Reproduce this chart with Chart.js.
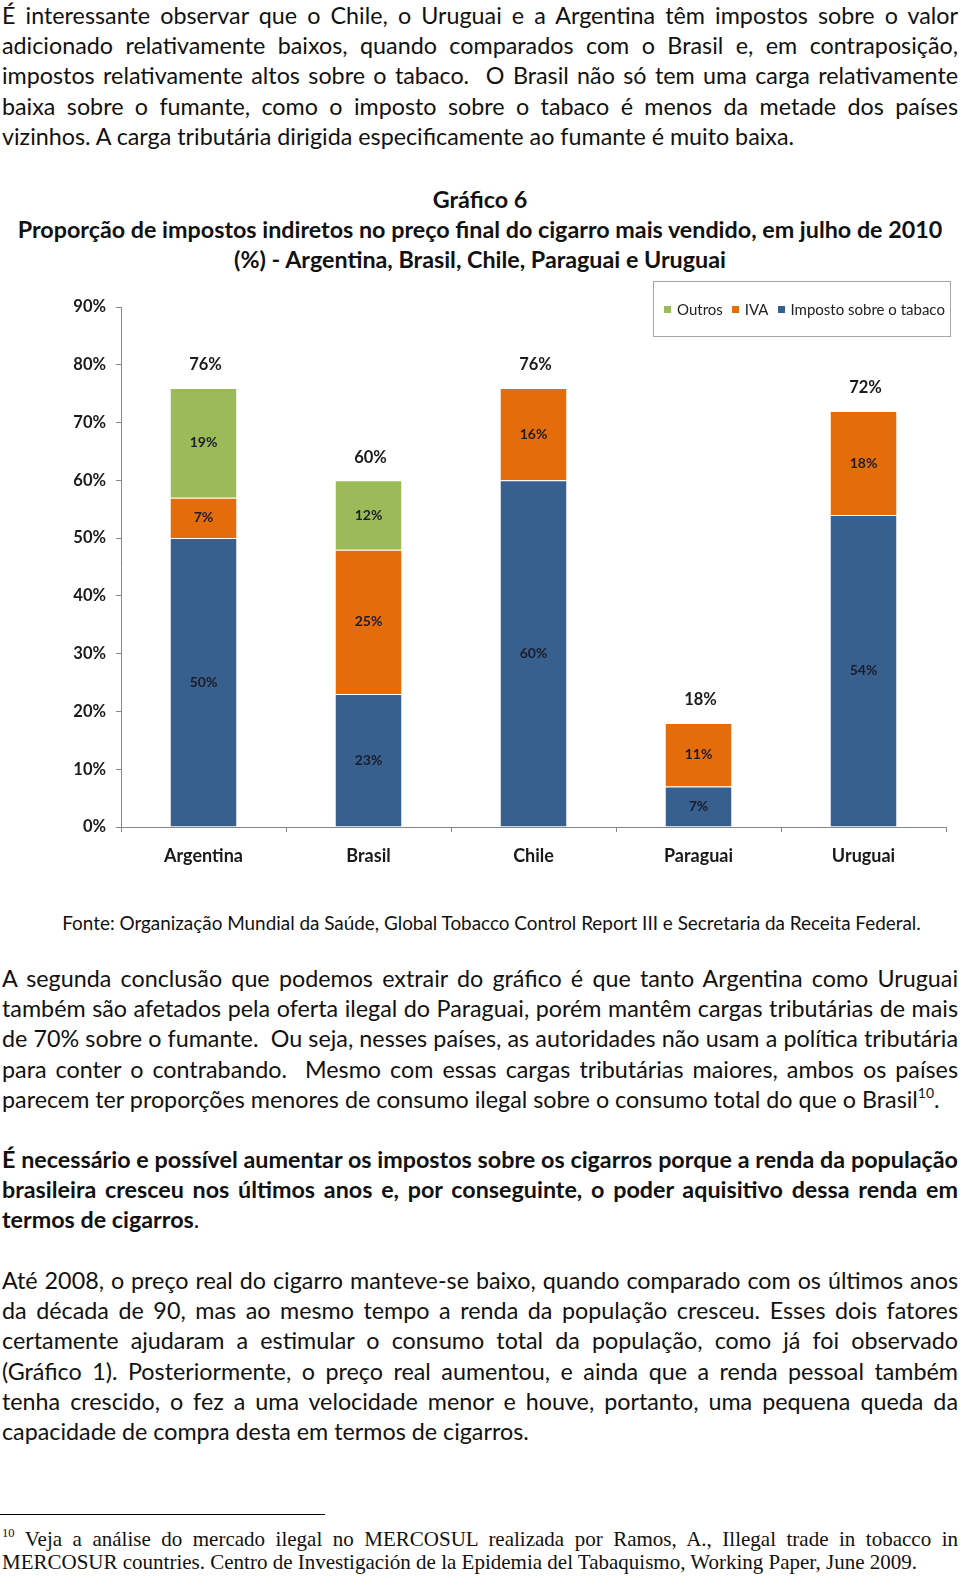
<!DOCTYPE html>
<html lang="pt-BR">
<head>
<meta charset="utf-8">
<title>Gráfico 6</title>
<script src="https://cdn.jsdelivr.net/npm/chart.js@4.4.1/dist/chart.umd.min.js"></script>
<style>
  html, body { margin: 0; padding: 0; background: #fff; }
  body { width: 960px; height: 1578px; position: relative; overflow: hidden;
         font-family: Lato, "Open Sans", sans-serif; color: #111; }
  .para { position: absolute; left: 2px; width: 956px; font-size: 23.3px; }
  .para div { height: 30.2px; line-height: 30.2px; white-space: nowrap;
              text-align: justify; text-align-last: justify; }
  .para div.last { text-align: left; text-align-last: left; }
  .bold { font-weight: bold; }
  sup { font-size: 0.6em; line-height: 0; vertical-align: 0.7em; }
  #title { position: absolute; left: 0; top: 184px; width: 960px; text-align: center;
           font-weight: bold; font-size: 23.3px; line-height: 30.2px; white-space: nowrap; }
  #wrap { position: absolute; left: 0; top: 280px; width: 960px; height: 600px; }
  #legend { position: absolute; left: 653px; top: 281px; width: 298px; height: 56px;
            border: 1px solid #a6a6a6; box-sizing: border-box; display: flex; align-items: center;
            padding-left: 10px; font-size: 15px; color: #222; white-space: nowrap; }
  #legend span.item { display: flex; align-items: center; margin-right: 9px; }
  #legend i { display: inline-block; width: 7px; height: 7px; margin-right: 6px; }
  #fonte { position: absolute; left: 62px; width: 859px; top: 911px; line-height: 24px;
           font-size: 18.9px; text-align: center; white-space: nowrap; }
  #rule { position: absolute; left: 0; top: 1514px; width: 325px; height: 0; border-top: 1px solid #000; }
  #nota { position: absolute; left: 2px; width: 956px; top: 1528px; font-family: "Liberation Serif", serif; font-size: 21px; }
  #nota div { height: 23px; line-height: 23px; white-space: nowrap; text-align: justify; text-align-last: justify; }
  #nota div.last { text-align: left; text-align-last: left; }
</style>
</head>
<body>

<div class="para" style="top:0px">
  <div>É interessante observar que o Chile, o Uruguai e a Argentina têm impostos sobre o valor</div>
  <div>adicionado relativamente baixos, quando comparados com o Brasil e, em contraposição,</div>
  <div>impostos relativamente altos sobre o tabaco.&nbsp; O Brasil não só tem uma carga relativamente</div>
  <div>baixa sobre o fumante, como o imposto sobre o tabaco é menos da metade dos países</div>
  <div class="last">vizinhos. A carga tributária dirigida especificamente ao fumante é muito baixa.</div>
</div>

<div id="title">
  Gráfico 6<br>
  Proporção de impostos indiretos no preço final do cigarro mais vendido, em julho de 2010<br>
  (%) - Argentina, Brasil, Chile, Paraguai e Uruguai
</div>

<div id="wrap"><canvas id="chart" width="960" height="600"></canvas></div>
<div id="legend"></div>

<div id="fonte">Fonte: Organização Mundial da Saúde, Global Tobacco Control Report III e Secretaria da Receita Federal.</div>

<div class="para" style="top:963px">
  <div>A segunda conclusão que podemos extrair do gráfico é que tanto Argentina como Uruguai</div>
  <div>também são afetados pela oferta ilegal do Paraguai, porém mantêm cargas tributárias de mais</div>
  <div>de 70% sobre o fumante.&nbsp; Ou seja, nesses países, as autoridades não usam a política tributária</div>
  <div>para conter o contrabando.&nbsp; Mesmo com essas cargas tributárias maiores, ambos os países</div>
  <div class="last">parecem ter proporções menores de consumo ilegal sobre o consumo total do que o Brasil<sup>10</sup>.</div>
</div>

<div class="para" style="top:1144px">
  <div class="bold">É necessário e possível aumentar os impostos sobre os cigarros porque a renda da população</div>
  <div class="bold">brasileira cresceu nos últimos anos e, por conseguinte, o poder aquisitivo dessa renda em</div>
  <div class="last"><span class="bold">termos de cigarros</span>.</div>
</div>

<div class="para" style="top:1265px">
  <div>Até 2008, o preço real do cigarro manteve-se baixo, quando comparado com os últimos anos</div>
  <div>da década de 90, mas ao mesmo tempo a renda da população cresceu. Esses dois fatores</div>
  <div>certamente ajudaram a estimular o consumo total da população, como já foi observado</div>
  <div>(Gráfico 1). Posteriormente, o preço real aumentou, e ainda que a renda pessoal também</div>
  <div>tenha crescido, o fez a uma velocidade menor e houve, portanto, uma pequena queda da</div>
  <div class="last">capacidade de compra desta em termos de cigarros.</div>
</div>

<div id="rule"></div>
<div id="nota">
  <div><sup>10</sup> Veja a análise do mercado ilegal no MERCOSUL realizada por Ramos, A., Illegal trade in tobacco in</div>
  <div class="last">MERCOSUR countries. Centro de Investigación de la Epidemia del Tabaquismo, Working Paper, June 2009.</div>
</div>

<script>
// dados do Gráfico 6 (valores em %)
const countries = ["Argentina", "Brasil", "Chile", "Paraguai", "Uruguai"];
const impostoTabaco = [50, 23, 60, 7, 54];
const iva = [7, 25, 16, 11, 18];
const outros = [19, 12, null, null, null];
const yTicks = [0, 10, 20, 30, 40, 50, 60, 70, 80, 90];

const COLORS = {
  tabaco: "#37608f",
  iva: "#e46c0a",
  outros: "#9bbb59",
  axis: "#868686",
  text: "#1a1a1a",
  label: "#1c1c2a",
};
const FONT = "Lato, 'Open Sans', sans-serif";

const series = [
  { label: "Imposto sobre o tabaco", data: impostoTabaco, color: COLORS.tabaco },
  { label: "IVA", data: iva, color: COLORS.iva },
  { label: "Outros", data: outros, color: COLORS.outros },
];

// legenda em HTML (ordem inversa, como no original)
const legendEl = document.getElementById("legend");
series.slice().reverse().forEach((s) => {
  const item = document.createElement("span");
  item.className = "item";
  item.innerHTML = `<i style="background:${s.color}"></i>${s.label}`;
  legendEl.appendChild(item);
});

// rótulos dentro das barras e total acima
const barLabels = {
  id: "barLabels",
  afterDatasetsDraw(chart) {
    const ctx = chart.ctx;
    ctx.save();
    ctx.textAlign = "center";
    ctx.textBaseline = "middle";
    ctx.fillStyle = COLORS.label;
    ctx.font = `bold 14px ${FONT}`;
    chart.data.datasets.forEach((ds, di) => {
      const meta = chart.getDatasetMeta(di);
      meta.data.forEach((bar, i) => {
        const v = ds.data[i];
        if (v == null) return;
        ctx.fillText(v + "%", bar.x, (bar.y + bar.base) / 2);
      });
    });
    ctx.font = `bold 16.5px ${FONT}`;
    ctx.fillStyle = COLORS.text;
    countries.forEach((_, i) => {
      let total = 0;
      let top = Infinity;
      let x = 0;
      chart.data.datasets.forEach((ds, di) => {
        const v = ds.data[i];
        if (v == null) return;
        total += v;
        const bar = chart.getDatasetMeta(di).data[i];
        top = Math.min(top, bar.y);
        x = bar.x;
      });
      ctx.fillText(total + "%", x + 2, top - 23);
    });
    ctx.restore();
  },
};

new Chart(document.getElementById("chart"), {
  type: "bar",
  data: {
    labels: countries,
    datasets: series.map((s) => ({
      label: s.label,
      data: s.data,
      backgroundColor: s.color,
      borderColor: "rgba(255,255,255,0.85)",
      borderWidth: { top: 1 },
      borderSkipped: "bottom",
      barPercentage: 0.4,
      categoryPercentage: 1.0,
    })),
  },
  options: {
    responsive: false,
    animation: false,
    layout: { padding: { top: 27, right: 14, left: 0, bottom: 0 } },
    plugins: {
      legend: { display: false },
      tooltip: { enabled: false },
    },
    scales: {
      x: {
        stacked: true,
        grid: { offset: true, drawOnChartArea: false, drawTicks: true, tickLength: 5, color: COLORS.axis },
        border: { display: true, color: COLORS.axis },
        ticks: { color: COLORS.text, font: { family: FONT, size: 18, weight: "bold" }, padding: 13 },
        afterFit(scale) { scale.height = 53; },
      },
      y: {
        stacked: true,
        min: yTicks[0],
        max: yTicks[yTicks.length - 1],
        afterBuildTicks(scale) { scale.ticks = yTicks.map((v) => ({ value: v })); },
        grid: { drawOnChartArea: false, drawTicks: true, tickLength: 5, color: COLORS.axis },
        border: { display: true, color: COLORS.axis },
        ticks: {
          color: COLORS.text,
          font: { family: FONT, size: 16.5, weight: "bold" },
          padding: 10,
          callback: (v) => v + "%",
        },
        afterFit(scale) { scale.width = 121; },
      },
    },
  },
  plugins: [barLabels],
});
</script>
</body>
</html>
